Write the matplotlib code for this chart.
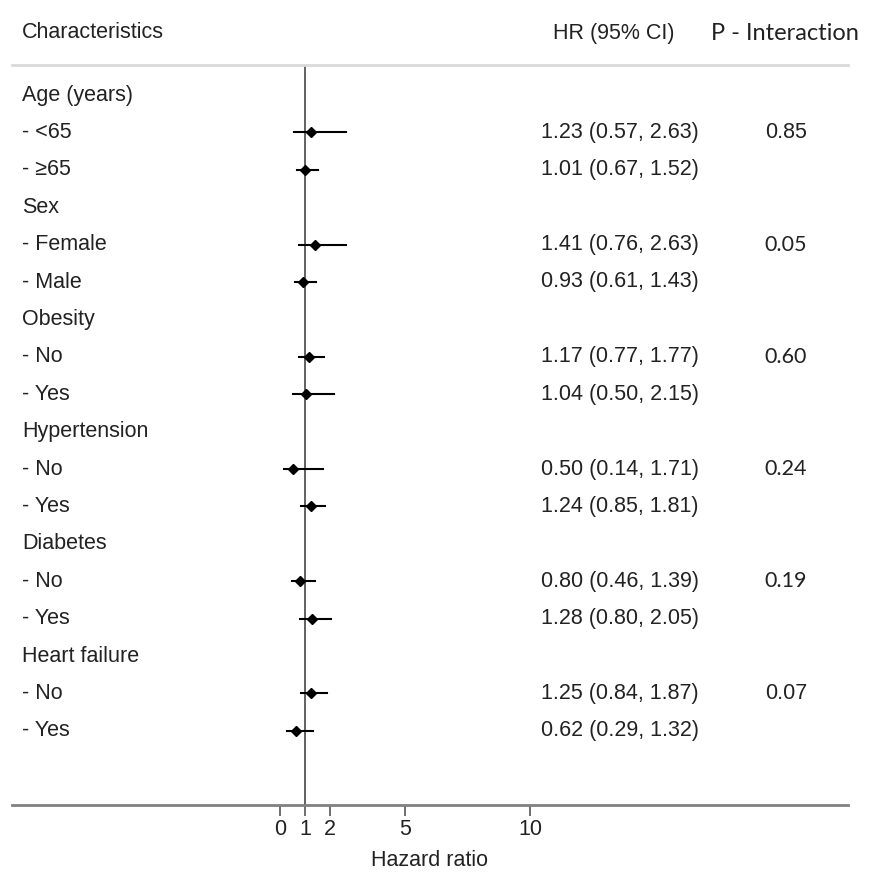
import numpy as np
import matplotlib.pyplot as plt

plt.rcParams['font.family'] = ['Liberation Sans', 'DejaVu Sans']

# Rows of the forest plot (group headers have no estimate)
labels = ["Age (years)", "- <65", "- \u226565",
          "Sex", "- Female", "- Male",
          "Obesity", "- No", "- Yes",
          "Hypertension", "- No", "- Yes",
          "Diabetes", "- No", "- Yes",
          "Heart failure", "- No", "- Yes"]
hr = [None, 1.23, 1.01, None, 1.41, 0.93, None, 1.17, 1.04,
      None, 0.50, 1.24, None, 0.80, 1.28, None, 1.25, 0.62]
ci_low = [None, 0.57, 0.67, None, 0.76, 0.61, None, 0.77, 0.50,
          None, 0.14, 0.85, None, 0.46, 0.80, None, 0.84, 0.29]
ci_high = [None, 2.63, 1.52, None, 2.63, 1.43, None, 1.77, 2.15,
           None, 1.71, 1.81, None, 1.39, 2.05, None, 1.87, 1.32]
p_values = {1: "0.85", 4: "0.05", 7: "0.60", 10: "0.24", 13: "0.19", 16: "0.07"}
p_calibri = {4, 7, 10, 13}   # these look like a different font in the original
x_ticks = [0, 1, 2, 5, 10]

W, H = 878, 872
fig = plt.figure(figsize=(W / 100, H / 100), dpi=100)

# axes in pixel positions of the original
ax_left, ax_right = 12, 848
ax_top, ax_bottom = 65, 805
ax = fig.add_axes([ax_left / W, 1 - ax_bottom / H,
                   (ax_right - ax_left) / W, (ax_bottom - ax_top) / H])

# x scale: 0 at 280 px, 25 px per unit
x0, px_unit = 280, 25
ax.set_xlim((ax_left - x0) / px_unit, (ax_right - x0) / px_unit)
# y scale: first row at 95 px, 37.4 px per row
y0, px_row = 95, 37.4
ax.set_ylim((ax_bottom - y0) / px_row, (ax_top - y0) / px_row)

for s in ["left", "right"]:
    ax.spines[s].set_visible(False)
ax.spines["top"].set_color("#d9d9d9")
ax.spines["top"].set_linewidth(2)
ax.spines["bottom"].set_color("#808080")
ax.spines["bottom"].set_linewidth(2)

ax.set_yticks([])
ax.set_xticks(x_ticks)
ax.set_xticklabels([str(t) for t in x_ticks])
ax.tick_params(axis="x", length=8, width=1.2, color="#555555",
               labelsize=15.5, labelcolor="#222222", pad=2)
ax.set_xlabel("Hazard ratio", fontsize=15.5, color="#222222", labelpad=7)

ax.axvline(1, color="#555555", linewidth=1.3, zorder=1)

fs = 15.5
text_x = (22 - x0) / px_unit
hr_x = (541 - x0) / px_unit
p_x = (786 - x0) / px_unit
for i, lab in enumerate(labels):
    ax.text(text_x, i, lab, fontsize=fs, va="center", ha="left", color="#222222")
    if hr[i] is not None:
        ax.plot([ci_low[i], ci_high[i]], [i, i], color="black", linewidth=1.5, zorder=2)
        ax.plot(hr[i], i, marker="D", color="black", markersize=5.3, zorder=3)
        ax.text(hr_x, i, f"{hr[i]:.2f} ({ci_low[i]:.2f}, {ci_high[i]:.2f})",
                fontsize=fs, va="center", ha="left", color="#222222")
    if i in p_values:
        fam = ["Lato", "DejaVu Sans"] if i in p_calibri else ["Liberation Sans", "DejaVu Sans"]
        ax.text(p_x, i, p_values[i], fontsize=fs, va="center", ha="center",
                color="#222222", family=fam)

# column headers
fig.text(22 / W, 1 - 33 / H, "Characteristics", fontsize=fs, va="center",
         ha="left", color="#222222")
fig.text(614 / W, 1 - 33 / H, "HR (95% CI)", fontsize=fs, va="center",
         ha="center", color="#222222")
fig.text(785 / W, 1 - 33 / H, "P - Interaction", fontsize=17, va="center",
         ha="center", color="#222222", family=["Lato", "DejaVu Sans"])

fig.savefig("out.png", dpi=100, facecolor="white")
